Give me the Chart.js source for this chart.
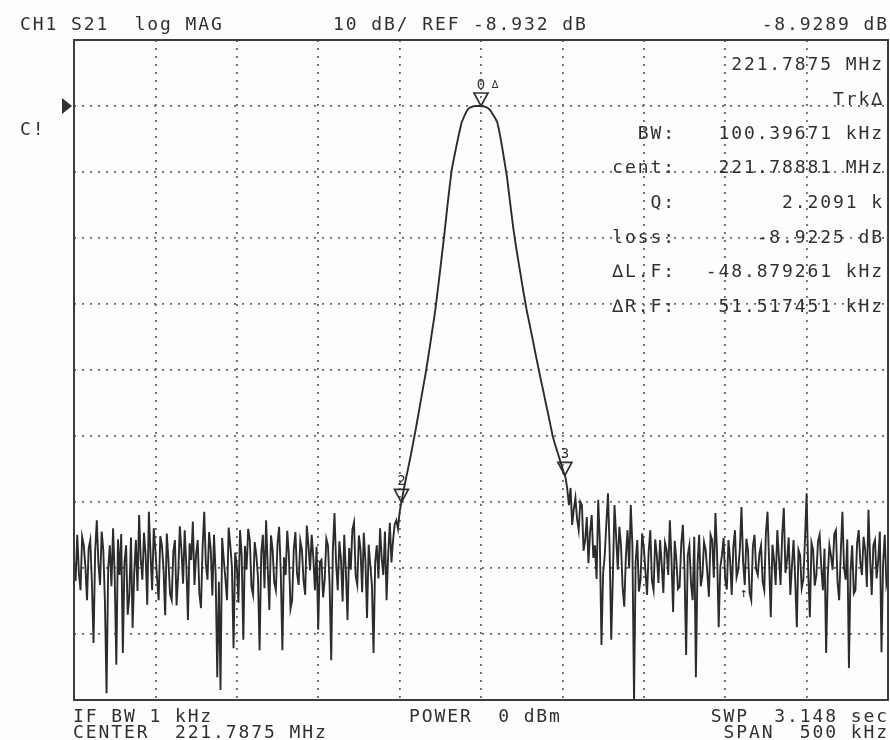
<!DOCTYPE html>
<html>
<head>
<meta charset="utf-8">
<script src="https://cdn.jsdelivr.net/npm/chart.js@4.4.1/dist/chart.umd.min.js"></script>
<style>
  html, body { margin: 0; padding: 0; background: #fdfdfc; }
  #wrap { width: 890px; height: 740px; }
</style>
</head>
<body>
<div id="wrap"><canvas id="analyzer" width="890" height="740"></canvas></div>
<script>
// S21 log MAG sweep, 501 points across a 500 kHz span (offsets from centre, kHz)
const sweepStartKhz = -250;
const sweepStepKhz = 1;

const refDb = -8.932;
const dbPerDiv = 10;

// trace, dB
const traceDb = [
  // noise floor, left of the passband (-250 .. -51 kHz)
  -77.7, -80.9, -73.9, -79.6, -82.3, -74.2, -75.5, -78.8, -83.8, -76.0,
  -74.7, -81.2, -90.3, -76.4, -71.7, -78.3, -81.5, -73.4, -76.2, -84.1,
  -97.9, -79.0, -75.5, -81.7, -72.9, -80.2, -93.6, -74.6, -80.0, -73.8,
  -91.8, -78.1, -75.5, -86.0, -83.0, -74.3, -88.0, -79.7, -74.7, -82.4,
  -70.9, -77.6, -80.7, -73.6, -77.0, -84.5, -70.4, -76.8, -82.3, -72.9,
  -76.2, -80.4, -83.8, -74.1, -75.5, -79.1, -86.1, -73.7, -77.7, -82.9,
  -83.8, -76.5, -74.7, -84.6, -80.0, -72.6, -76.2, -81.3, -73.2, -78.6,
  -86.8, -75.2, -77.7, -71.9, -81.5, -76.9, -74.7, -82.8, -85.0, -75.8,
  -70.4, -78.4, -80.7, -73.5, -76.2, -83.1, -73.9, -79.9, -95.5, -81.0,
  -97.4, -74.4, -77.7, -80.6, -83.8, -72.8, -75.5, -78.7, -91.1, -76.6,
  -78.5, -84.2, -73.2, -77.1, -89.8, -75.6, -79.2, -73.0, -74.7, -81.8,
  -83.0, -75.0, -77.0, -80.3, -91.4, -76.7, -73.9, -82.0, -71.7, -78.9,
  -85.3, -74.0, -76.2, -81.1, -82.3, -75.3, -72.7, -79.4, -91.4, -77.3,
  -80.0, -73.3, -77.0, -85.1, -83.8, -76.1, -73.5, -79.8, -81.5, -74.8,
  -76.2, -80.8, -83.0, -72.5, -75.5, -79.3, -73.9, -77.4, -82.3, -75.7,
  -88.3, -78.0, -77.7, -83.4, -80.7, -74.5, -75.5, -81.4, -92.9, -76.3,
  -70.6, -78.2, -82.3, -74.9, -77.7, -84.0, -73.9, -79.5, -86.8, -75.9,
  -79.2, -73.1, -72.0, -80.1, -81.5, -74.0, -76.2, -82.6, -73.6, -77.8,
  -86.5, -75.4, -78.5, -81.6, -91.8, -78.0, -75.5, -80.5, -72.9, -77.5,
  -80.0, -73.4, -83.8, -76.8, -72.1, -78.1, -74.7, -72.3, -71.7, -73.0,
  // passband (-50 .. +52 kHz)
  -70.5, -69.1, -67.8, -66.5, -65.3, -64.1, -62.9, -61.7, -60.4, -59.1,
  -57.8, -56.4, -55.0, -53.6, -52.2, -50.8, -49.4, -47.9, -46.3, -44.7,
  -43.0, -41.4, -39.7, -37.7, -35.7, -33.6, -31.5, -29.4, -27.2, -24.9,
  -22.7, -20.6, -18.6, -17.3, -16.1, -14.9, -13.7, -12.6, -11.5, -10.9,
  -10.3, -9.8, -9.4, -9.2, -9.1, -9.0, -8.95, -8.93, -8.93, -8.93,
  -8.93, -8.96, -9.0, -9.1, -9.2, -9.4, -9.7, -10.1, -10.5, -10.9,
  -11.4, -12.5, -13.8, -15.2, -16.7, -18.2, -19.8, -21.8, -23.8, -25.8,
  -27.7, -29.4, -31.0, -32.5, -34.0, -35.5, -37.0, -38.4, -39.8, -41.0,
  -42.2, -43.4, -44.6, -45.9, -47.1, -48.3, -49.5, -50.7, -51.8, -53.0,
  -54.2, -55.3, -56.5, -57.7, -58.9, -59.8, -60.6, -61.4, -62.2, -63.0,
  -63.8, -64.6, -65.3,
  // noise floor, right of the passband (+53 .. +250 kHz)
  -67.0,
  -69.4, -66.8, -72.4, -70.0, -68.3, -71.5, -73.2, -68.9, -69.4, -76.3,
  -74.7, -71.2, -78.2, -73.5, -70.9, -77.4, -75.5, -80.6, -68.6, -74.9,
  -90.6, -79.8, -77.0, -72.2, -67.6, -76.0, -89.8, -80.1, -69.4, -74.1,
  -79.2, -72.7, -75.5, -81.9, -84.8, -77.2, -73.2, -79.0, -69.4, -75.6,
  -98.9, -77.9, -74.7, -82.5, -80.7, -73.7, -75.9, -79.4, -83.0, -76.4,
  -73.2, -80.9, -82.3, -74.6, -77.0, -81.2, -74.7, -78.4, -82.7, -75.1,
  -76.2, -80.0, -71.7, -77.6, -85.6, -74.8, -77.7, -82.1, -81.8, -75.3,
  -72.4, -79.2, -92.1, -77.0, -75.5, -81.3, -83.8, -74.2, -95.5, -78.5,
  -73.9, -81.7, -80.0, -75.0, -76.2, -79.6, -83.3, -73.9, -74.7, -80.4,
  -70.6, -76.6, -87.9, -78.8, -77.0, -74.4, -80.7, -82.2, -74.7, -77.7,
  -83.0, -75.8, -73.2, -80.3, -79.2, -76.1, -69.7, -78.0, -81.5, -74.5,
  -76.2, -82.7, -83.8, -75.7, -73.9, -79.1, -80.0, -76.8, -75.5, -81.0,
  -82.3, -73.6, -70.4, -78.3, -86.4, -75.4, -77.7, -81.5, -73.2, -77.3,
  -81.5, -74.0, -69.8, -79.7, -77.7, -74.3, -83.0, -78.6, -74.7, -80.7,
  -87.9, -76.2, -77.0, -82.0, -80.7, -74.7, -67.6, -79.5, -86.4, -75.1,
  -76.2, -81.6, -80.0, -74.9, -73.9, -78.7, -82.3, -76.0, -91.8, -80.2,
  -75.5, -77.1, -79.2, -73.8, -73.2, -81.1, -83.8, -76.5, -70.4, -78.9,
  -80.7, -74.6, -94.1, -79.3, -75.5, -82.8, -82.3, -75.2, -73.2, -78.1,
  -80.0, -74.2, -76.2, -81.8, -70.1, -77.5, -83.0, -75.5, -74.7, -80.5,
  -77.7, -73.4, -91.7, -78.2, -73.9, -81.4, -80.0
];

// markers: 0 = delta reference, 2/3 = bandwidth edges
const markerNames = ['0', '2', '3'];
const markerKhz = [0, -48.879, 51.517];
const markerDb = [-8.93, -69.0, -64.9];

const headerTexts = ['CH1 S21  log MAG', '10 dB/ REF -8.932 dB', '-8.9289 dB'];
const readoutLabels = ['', '', 'BW:', 'cent:', 'Q:', 'loss:', '\u2206L.F:', '\u2206R.F:'];
const readoutValues = ['221.7875 MHz', 'Trk\u2206', '100.39671 kHz', '221.78881 MHz',
  '2.2091 k', '-8.9225 dB', '-48.879261 kHz', '51.517451 kHz'];
const footerLeft = ['IF BW 1 kHz', 'CENTER  221.7875 MHz'];
const footerMid = 'POWER  0 dBm';
const footerRight = ['SWP  3.148 sec', 'SPAN  500 kHz'];

const INK = '#303030';
const MONO = '"DejaVu Sans Mono", "Liberation Mono", monospace';

const tracePoints = traceDb.map((v, i) => ({ x: sweepStartKhz + i * sweepStepKhz, y: v }));

const overlay = {
  id: 'overlay',
  afterDatasetsDraw(chart) {
    const { ctx, chartArea: a, scales: { x, y } } = chart;
    ctx.save();

    // solid frame
    ctx.strokeStyle = '#3c3c3c';
    ctx.lineWidth = 2;
    ctx.strokeRect(a.left, a.top, a.right - a.left, a.bottom - a.top);

    // reference level arrow
    const ry = y.getPixelForValue(refDb);
    ctx.fillStyle = INK;
    ctx.beginPath();
    ctx.moveTo(a.left - 12, ry - 8);
    ctx.lineTo(a.left - 2, ry);
    ctx.lineTo(a.left - 12, ry + 8);
    ctx.closePath();
    ctx.fill();

    // marker triangles
    ctx.strokeStyle = INK;
    ctx.lineWidth = 1.7;
    markerKhz.forEach((f, i) => {
      const px = x.getPixelForValue(f);
      const py = y.getPixelForValue(markerDb[i]);
      ctx.beginPath();
      ctx.moveTo(px - 7, py - 13);
      ctx.lineTo(px + 7, py - 13);
      ctx.lineTo(px, py);
      ctx.closePath();
      ctx.stroke();
      ctx.font = '14px ' + MONO;
      ctx.textAlign = 'center';
      ctx.textBaseline = 'alphabetic';
      ctx.fillText(markerNames[i], px, py - 17);
      if (i === 0) {
        ctx.font = '11px ' + MONO;
        ctx.fillText('\u2206', px + 14, py - 18);
      }
    });

    // small arrow on the noise floor
    ctx.font = '13px ' + MONO;
    ctx.textAlign = 'center';
    ctx.fillText('\u2191', 744, 597);

    // text
    ctx.font = '18px ' + MONO;
    ctx.letterSpacing = '1.9px';
    ctx.fillStyle = INK;
    const put = (t, tx, ty, al) => { ctx.textAlign = al; ctx.fillText(t, tx, ty); };

    put(headerTexts[0], 20, 30, 'left');
    put(headerTexts[1], 333, 30, 'left');
    put(headerTexts[2], 889, 30, 'right');
    put('C!', 20, 135, 'left');

    const rowY = [70, 105, 139, 173, 208, 243, 277, 312];
    readoutValues.forEach((v, i) => {
      if (readoutLabels[i]) put(readoutLabels[i], 676, rowY[i], 'right');
      put(v, 884, rowY[i], 'right');
    });

    put(footerLeft[0], 73, 722, 'left');
    put(footerLeft[1], 73, 738, 'left');
    put(footerMid, 409, 722, 'left');
    put(footerRight[0], 889, 722, 'right');
    put(footerRight[1], 889, 738, 'right');

    ctx.restore();
  }
};

new Chart(document.getElementById('analyzer'), {
  type: 'line',
  data: {
    datasets: [{
      data: tracePoints,
      borderColor: '#2c2c2c',
      borderWidth: 1.9,
      pointRadius: 0,
      tension: 0
    }]
  },
  options: {
    responsive: false,
    animation: false,
    layout: { padding: { left: 74, top: 40, right: 2, bottom: 40 } },
    plugins: { legend: { display: false }, tooltip: { enabled: false } },
    scales: {
      x: {
        type: 'linear',
        min: sweepStartKhz,
        max: sweepStartKhz + (traceDb.length - 1) * sweepStepKhz,
        ticks: { display: false, stepSize: 50 },
        grid: { color: '#666', lineWidth: 1.8, drawTicks: false },
        border: { display: false, dash: [2, 6] }
      },
      y: {
        type: 'linear',
        min: refDb - 9 * dbPerDiv,
        max: refDb + dbPerDiv,
        ticks: { display: false, stepSize: dbPerDiv },
        grid: { color: '#666', lineWidth: 1.8, drawTicks: false },
        border: { display: false, dash: [2, 6] }
      }
    }
  },
  plugins: [overlay]
});
</script>
</body>
</html>
